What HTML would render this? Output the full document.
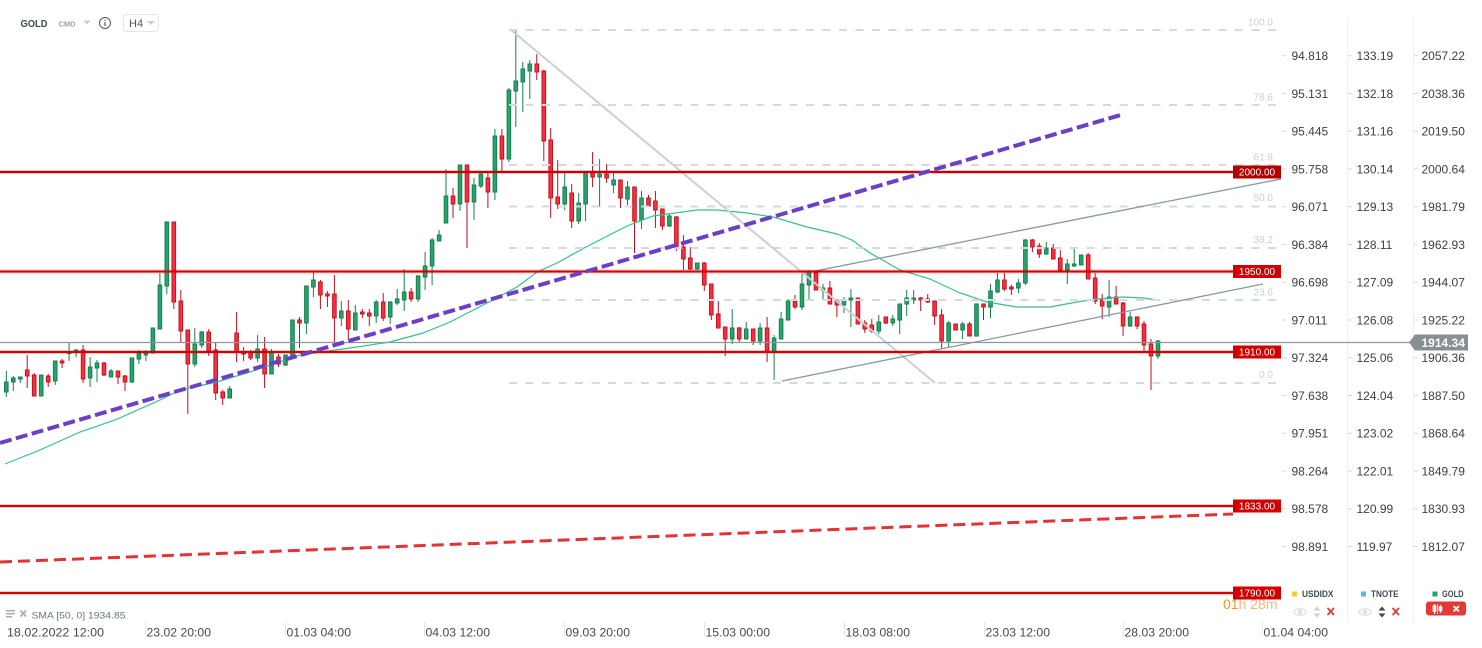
<!DOCTYPE html>
<html><head><meta charset="utf-8"><style>
html,body{margin:0;padding:0;background:#fff;}
svg{display:block;font-family:"Liberation Sans",Arial,sans-serif;}
.g path{stroke:#1a7d4f;stroke-width:1}
.g rect{fill:#25a56c;stroke:#1a7d4f;stroke-width:1}
.r path{stroke:#b5121f;stroke-width:1}
.r rect{fill:#fb2d40;stroke:#c0141f;stroke-width:1}
rect.b{x:-1.8px;width:3.6px}
.ax{font-size:12px;fill:#3c4043}
.fl{font-size:10px;fill:#c8d0d5;text-anchor:end}
.xl{font-size:12px;fill:#454a4e}
</style></head><body>
<svg width="1482" height="648" viewBox="0 0 1482 648" xmlns="http://www.w3.org/2000/svg">
<rect width="1482" height="648" fill="#fff"/>

<!-- header -->
<text x="20.5" y="27" font-size="10.5" font-weight="bold" fill="#3d4a54" textLength="27" lengthAdjust="spacingAndGlyphs">GOLD</text>
<text x="58.5" y="26.5" font-size="7.5" font-weight="bold" fill="#93a4b0" textLength="17" lengthAdjust="spacingAndGlyphs">CMD</text>
<polygon points="83,20.5 91,20.5 87,24.5" fill="#c9ced2"/>
<circle cx="105" cy="23" r="5.5" fill="none" stroke="#555" stroke-width="1"/>
<rect x="104.4" y="22" width="1.2" height="4" fill="#555"/><rect x="104.4" y="19.6" width="1.2" height="1.2" fill="#555"/>
<rect x="123.5" y="14.5" width="35" height="17" rx="3" fill="#fff" stroke="#e3e6e8"/>
<text x="129" y="27" font-size="11" fill="#555">H4</text>
<polygon points="147,21 155,21 151,25" fill="#c9ced2"/>

<!-- axis separators -->
<line x1="1347.5" y1="18" x2="1347.5" y2="623" stroke="#eef0f2"/>
<line x1="1413.5" y1="18" x2="1413.5" y2="623" stroke="#eef0f2"/>

<!-- candles -->
<g>
<g class="g" transform="translate(6.3)"><path d="M0 371V397"/><rect class="b" y="382" height="10"/></g>
<g class="g" transform="translate(13.3)"><path d="M0 376V391"/><rect class="b" y="378" height="4"/></g>
<g class="g" transform="translate(20.3)"><path d="M0 377V383"/><rect class="b" y="377" height="2"/></g>
<g class="r" transform="translate(27.2)"><path d="M0 355V388"/><rect class="b" y="370" height="6"/></g>
<g class="r" transform="translate(34.2)"><path d="M0 373V396"/><rect class="b" y="375" height="21"/></g>
<g class="g" transform="translate(41.2)"><path d="M0 375V396"/><rect class="b" y="375" height="21"/></g>
<g class="r" transform="translate(48.2)"><path d="M0 374V387"/><rect class="b" y="376" height="6"/></g>
<g class="g" transform="translate(55.2)"><path d="M0 361V385"/><rect class="b" y="361" height="20"/></g>
<g class="r" transform="translate(62.1)"><path d="M0 359V368"/><rect class="b" y="361" height="2"/></g>
<g class="g" transform="translate(69.1)"><path d="M0 343V361"/><rect class="b" y="352" height="1.5"/></g>
<g class="g" transform="translate(76.1)"><path d="M0 349V357"/><rect class="b" y="350" height="2"/></g>
<g class="r" transform="translate(83.1)"><path d="M0 345V383"/><rect class="b" y="350" height="29"/></g>
<g class="g" transform="translate(90.1)"><path d="M0 357V387"/><rect class="b" y="367" height="11"/></g>
<g class="g" transform="translate(97)"><path d="M0 360V382"/><rect class="b" y="363" height="5"/></g>
<g class="r" transform="translate(104)"><path d="M0 362V376"/><rect class="b" y="363" height="12"/></g>
<g class="g" transform="translate(111)"><path d="M0 369V377"/><rect class="b" y="371" height="6"/></g>
<g class="r" transform="translate(118)"><path d="M0 371V384"/><rect class="b" y="371" height="6"/></g>
<g class="r" transform="translate(125)"><path d="M0 375V391"/><rect class="b" y="376" height="6"/></g>
<g class="g" transform="translate(131.9)"><path d="M0 358V383"/><rect class="b" y="358" height="24"/></g>
<g class="g" transform="translate(138.9)"><path d="M0 350V364"/><rect class="b" y="353" height="6"/></g>
<g class="g" transform="translate(145.9)"><path d="M0 350V361"/><rect class="b" y="353" height="2"/></g>
<g class="g" transform="translate(152.9)"><path d="M0 328V353"/><rect class="b" y="328" height="25"/></g>
<g class="g" transform="translate(159.9)"><path d="M0 273V329"/><rect class="b" y="285" height="44"/></g>
<g class="g" transform="translate(166.8)"><path d="M0 222V294"/><rect class="b" y="222" height="64"/></g>
<g class="r" transform="translate(173.8)"><path d="M0 222V309"/><rect class="b" y="222" height="80"/></g>
<g class="r" transform="translate(180.8)"><path d="M0 290V343"/><rect class="b" y="301" height="30"/></g>
<g class="r" transform="translate(187.8)"><path d="M0 330V414"/><rect class="b" y="330" height="34"/></g>
<g class="g" transform="translate(194.8)"><path d="M0 328V367"/><rect class="b" y="344" height="20"/></g>
<g class="g" transform="translate(201.7)"><path d="M0 331V348"/><rect class="b" y="332" height="13"/></g>
<g class="r" transform="translate(208.7)"><path d="M0 329V356"/><rect class="b" y="332" height="19"/></g>
<g class="r" transform="translate(215.7)"><path d="M0 343V400"/><rect class="b" y="350" height="43"/></g>
<g class="r" transform="translate(222.7)"><path d="M0 390V405"/><rect class="b" y="392" height="6"/></g>
<g class="g" transform="translate(229.7)"><path d="M0 386V398"/><rect class="b" y="389" height="9"/></g>
<g class="r" transform="translate(236.6)"><path d="M0 312V362"/><rect class="b" y="333" height="19"/></g>
<g class="r" transform="translate(243.6)"><path d="M0 347V361"/><rect class="b" y="352" height="2"/></g>
<g class="r" transform="translate(250.6)"><path d="M0 350V360"/><rect class="b" y="352" height="6"/></g>
<g class="g" transform="translate(257.6)"><path d="M0 335V362"/><rect class="b" y="349" height="9"/></g>
<g class="r" transform="translate(264.6)"><path d="M0 337V388"/><rect class="b" y="349" height="25"/></g>
<g class="g" transform="translate(271.5)"><path d="M0 349V374"/><rect class="b" y="353" height="21"/></g>
<g class="r" transform="translate(278.5)"><path d="M0 354V367"/><rect class="b" y="357" height="7"/></g>
<g class="g" transform="translate(285.5)"><path d="M0 355V366"/><rect class="b" y="355" height="10"/></g>
<g class="g" transform="translate(292.5)"><path d="M0 320V356"/><rect class="b" y="320" height="36"/></g>
<g class="r" transform="translate(299.5)"><path d="M0 317V348"/><rect class="b" y="320" height="3"/></g>
<g class="g" transform="translate(306.4)"><path d="M0 286V334"/><rect class="b" y="286" height="37"/></g>
<g class="g" transform="translate(313.4)"><path d="M0 272V297"/><rect class="b" y="280" height="7"/></g>
<g class="r" transform="translate(320.4)"><path d="M0 280V309"/><rect class="b" y="282" height="13"/></g>
<g class="r" transform="translate(327.4)"><path d="M0 291V307"/><rect class="b" y="294" height="2"/></g>
<g class="r" transform="translate(334.4)"><path d="M0 275V343"/><rect class="b" y="294" height="24"/></g>
<g class="g" transform="translate(341.3)"><path d="M0 301V326"/><rect class="b" y="311" height="7"/></g>
<g class="r" transform="translate(348.3)"><path d="M0 300V340"/><rect class="b" y="311" height="18"/></g>
<g class="g" transform="translate(355.3)"><path d="M0 305V330"/><rect class="b" y="313" height="17"/></g>
<g class="r" transform="translate(362.3)"><path d="M0 309V318"/><rect class="b" y="312" height="2"/></g>
<g class="r" transform="translate(369.3)"><path d="M0 309V326"/><rect class="b" y="313" height="3"/></g>
<g class="g" transform="translate(376.2)"><path d="M0 300V323"/><rect class="b" y="302" height="14"/></g>
<g class="r" transform="translate(383.2)"><path d="M0 293V321"/><rect class="b" y="302" height="16"/></g>
<g class="g" transform="translate(390.2)"><path d="M0 301V324"/><rect class="b" y="302" height="15"/></g>
<g class="g" transform="translate(397.2)"><path d="M0 289V305"/><rect class="b" y="299" height="4"/></g>
<g class="g" transform="translate(404.2)"><path d="M0 269V311"/><rect class="b" y="292" height="8"/></g>
<g class="r" transform="translate(411.1)"><path d="M0 288V302"/><rect class="b" y="292" height="7"/></g>
<g class="g" transform="translate(418.1)"><path d="M0 275V302"/><rect class="b" y="276" height="23"/></g>
<g class="g" transform="translate(425.1)"><path d="M0 252V290"/><rect class="b" y="266" height="11"/></g>
<g class="g" transform="translate(432.1)"><path d="M0 238V285"/><rect class="b" y="240" height="26"/></g>
<g class="g" transform="translate(439.1)"><path d="M0 230V241"/><rect class="b" y="235" height="6"/></g>
<g class="g" transform="translate(446)"><path d="M0 169V223"/><rect class="b" y="196" height="27"/></g>
<g class="r" transform="translate(453)"><path d="M0 188V218"/><rect class="b" y="196" height="8"/></g>
<g class="g" transform="translate(460)"><path d="M0 165V211"/><rect class="b" y="165" height="39"/></g>
<g class="r" transform="translate(467)"><path d="M0 165V248"/><rect class="b" y="165" height="37"/></g>
<g class="g" transform="translate(474)"><path d="M0 178V220"/><rect class="b" y="185" height="17"/></g>
<g class="g" transform="translate(480.9)"><path d="M0 173V188"/><rect class="b" y="174" height="12"/></g>
<g class="r" transform="translate(487.9)"><path d="M0 172V208"/><rect class="b" y="178" height="14"/></g>
<g class="g" transform="translate(494.9)"><path d="M0 129V200"/><rect class="b" y="136" height="56"/></g>
<g class="r" transform="translate(501.9)"><path d="M0 129V171"/><rect class="b" y="136" height="23"/></g>
<g class="g" transform="translate(508.9)"><path d="M0 88V162"/><rect class="b" y="90" height="69"/></g>
<g class="g" transform="translate(515.8)"><path d="M0 31V127"/><rect class="b" y="81" height="10"/></g>
<g class="g" transform="translate(522.8)"><path d="M0 62V112"/><rect class="b" y="69" height="13"/></g>
<g class="g" transform="translate(529.8)"><path d="M0 60V99"/><rect class="b" y="64" height="7"/></g>
<g class="r" transform="translate(536.8)"><path d="M0 54V80"/><rect class="b" y="64" height="8"/></g>
<g class="r" transform="translate(543.8)"><path d="M0 70V161"/><rect class="b" y="71" height="70"/></g>
<g class="r" transform="translate(550.7)"><path d="M0 128V218"/><rect class="b" y="140" height="58"/></g>
<g class="r" transform="translate(557.7)"><path d="M0 160V209"/><rect class="b" y="197" height="7"/></g>
<g class="g" transform="translate(564.7)"><path d="M0 173V210"/><rect class="b" y="187" height="17"/></g>
<g class="r" transform="translate(571.7)"><path d="M0 184V228"/><rect class="b" y="193" height="28"/></g>
<g class="g" transform="translate(578.7)"><path d="M0 193V224"/><rect class="b" y="203" height="18"/></g>
<g class="g" transform="translate(585.6)"><path d="M0 172V221"/><rect class="b" y="172" height="32"/></g>
<g class="r" transform="translate(592.6)"><path d="M0 152V187"/><rect class="b" y="172" height="5"/></g>
<g class="g" transform="translate(599.6)"><path d="M0 159V207"/><rect class="b" y="174" height="3"/></g>
<g class="r" transform="translate(606.6)"><path d="M0 164V183"/><rect class="b" y="174" height="4"/></g>
<g class="g" transform="translate(613.6)"><path d="M0 173V193"/><rect class="b" y="180" height="5"/></g>
<g class="r" transform="translate(620.5)"><path d="M0 180V208"/><rect class="b" y="180" height="18"/></g>
<g class="g" transform="translate(627.5)"><path d="M0 181V205"/><rect class="b" y="187" height="12"/></g>
<g class="r" transform="translate(634.5)"><path d="M0 187V253"/><rect class="b" y="187" height="34"/></g>
<g class="g" transform="translate(641.5)"><path d="M0 191V229"/><rect class="b" y="198" height="22"/></g>
<g class="r" transform="translate(648.5)"><path d="M0 195V206"/><rect class="b" y="198" height="8"/></g>
<g class="r" transform="translate(655.4)"><path d="M0 191V228"/><rect class="b" y="201" height="9"/></g>
<g class="r" transform="translate(662.4)"><path d="M0 209V230"/><rect class="b" y="209" height="17"/></g>
<g class="g" transform="translate(669.4)"><path d="M0 214V227"/><rect class="b" y="216" height="10"/></g>
<g class="r" transform="translate(676.4)"><path d="M0 216V251"/><rect class="b" y="217" height="30"/></g>
<g class="r" transform="translate(683.4)"><path d="M0 235V270"/><rect class="b" y="247" height="12"/></g>
<g class="r" transform="translate(690.3)"><path d="M0 247V270"/><rect class="b" y="258" height="11"/></g>
<g class="g" transform="translate(697.3)"><path d="M0 263V270"/><rect class="b" y="263" height="6"/></g>
<g class="r" transform="translate(704.3)"><path d="M0 262V291"/><rect class="b" y="263" height="22"/></g>
<g class="r" transform="translate(711.3)"><path d="M0 284V320"/><rect class="b" y="284" height="31"/></g>
<g class="r" transform="translate(718.3)"><path d="M0 301V328"/><rect class="b" y="314" height="14"/></g>
<g class="r" transform="translate(725.2)"><path d="M0 327V356"/><rect class="b" y="327" height="12"/></g>
<g class="g" transform="translate(732.2)"><path d="M0 309V344"/><rect class="b" y="328" height="11"/></g>
<g class="r" transform="translate(739.2)"><path d="M0 327V343"/><rect class="b" y="328" height="11"/></g>
<g class="g" transform="translate(746.2)"><path d="M0 322V339"/><rect class="b" y="329" height="10"/></g>
<g class="r" transform="translate(753.2)"><path d="M0 329V345"/><rect class="b" y="329" height="12"/></g>
<g class="g" transform="translate(760.1)"><path d="M0 323V345"/><rect class="b" y="328" height="13"/></g>
<g class="r" transform="translate(767.1)"><path d="M0 317V362"/><rect class="b" y="328" height="23"/></g>
<g class="g" transform="translate(774.1)"><path d="M0 335V380"/><rect class="b" y="338" height="13"/></g>
<g class="g" transform="translate(781.1)"><path d="M0 312V339"/><rect class="b" y="319" height="20"/></g>
<g class="g" transform="translate(788.1)"><path d="M0 299V320"/><rect class="b" y="301" height="19"/></g>
<g class="r" transform="translate(795)"><path d="M0 295V309"/><rect class="b" y="301" height="6"/></g>
<g class="g" transform="translate(802)"><path d="M0 274V310"/><rect class="b" y="284" height="23"/></g>
<g class="g" transform="translate(809)"><path d="M0 270V299"/><rect class="b" y="273" height="12"/></g>
<g class="r" transform="translate(816)"><path d="M0 272V290"/><rect class="b" y="273" height="17"/></g>
<g class="g" transform="translate(823)"><path d="M0 284V299"/><rect class="b" y="288" height="2"/></g>
<g class="r" transform="translate(829.9)"><path d="M0 281V304"/><rect class="b" y="288" height="16"/></g>
<g class="r" transform="translate(836.9)"><path d="M0 299V317"/><rect class="b" y="301" height="4"/></g>
<g class="g" transform="translate(843.9)"><path d="M0 297V313"/><rect class="b" y="300" height="5"/></g>
<g class="g" transform="translate(850.9)"><path d="M0 289V327"/><rect class="b" y="298" height="2"/></g>
<g class="r" transform="translate(857.9)"><path d="M0 298V324"/><rect class="b" y="298" height="26"/></g>
<g class="r" transform="translate(864.8)"><path d="M0 320V333"/><rect class="b" y="323" height="6"/></g>
<g class="r" transform="translate(871.8)"><path d="M0 319V333"/><rect class="b" y="325" height="6"/></g>
<g class="g" transform="translate(878.8)"><path d="M0 315V334"/><rect class="b" y="322" height="9"/></g>
<g class="r" transform="translate(885.8)"><path d="M0 317V324"/><rect class="b" y="317" height="6"/></g>
<g class="g" transform="translate(892.8)"><path d="M0 315V326"/><rect class="b" y="319" height="4"/></g>
<g class="g" transform="translate(899.7)"><path d="M0 304V334"/><rect class="b" y="304" height="16"/></g>
<g class="g" transform="translate(906.7)"><path d="M0 290V316"/><rect class="b" y="298" height="6"/></g>
<g class="g" transform="translate(913.7)"><path d="M0 290V304"/><rect class="b" y="298" height="2"/></g>
<g class="r" transform="translate(920.7)"><path d="M0 297V311"/><rect class="b" y="298" height="2"/></g>
<g class="r" transform="translate(927.7)"><path d="M0 294V303"/><rect class="b" y="299" height="3"/></g>
<g class="r" transform="translate(934.6)"><path d="M0 301V325"/><rect class="b" y="301" height="15"/></g>
<g class="r" transform="translate(941.6)"><path d="M0 309V348"/><rect class="b" y="315" height="26"/></g>
<g class="g" transform="translate(948.6)"><path d="M0 321V348"/><rect class="b" y="323" height="18"/></g>
<g class="r" transform="translate(955.6)"><path d="M0 324V330"/><rect class="b" y="324" height="6"/></g>
<g class="g" transform="translate(962.6)"><path d="M0 322V339"/><rect class="b" y="324" height="6"/></g>
<g class="r" transform="translate(969.5)"><path d="M0 322V336"/><rect class="b" y="324" height="12"/></g>
<g class="g" transform="translate(976.5)"><path d="M0 304V336"/><rect class="b" y="304" height="32"/></g>
<g class="r" transform="translate(983.5)"><path d="M0 304V320"/><rect class="b" y="304" height="3"/></g>
<g class="g" transform="translate(990.5)"><path d="M0 284V318"/><rect class="b" y="291" height="16"/></g>
<g class="g" transform="translate(997.5)"><path d="M0 273V293"/><rect class="b" y="280" height="12"/></g>
<g class="r" transform="translate(1004.4)"><path d="M0 273V291"/><rect class="b" y="280" height="9"/></g>
<g class="r" transform="translate(1011.4)"><path d="M0 285V295"/><rect class="b" y="287" height="2"/></g>
<g class="g" transform="translate(1018.4)"><path d="M0 279V293"/><rect class="b" y="283" height="5"/></g>
<g class="g" transform="translate(1025.4)"><path d="M0 239V285"/><rect class="b" y="240" height="43"/></g>
<g class="r" transform="translate(1032.4)"><path d="M0 239V252"/><rect class="b" y="240" height="7"/></g>
<g class="r" transform="translate(1039.3)"><path d="M0 243V258"/><rect class="b" y="246" height="8"/></g>
<g class="g" transform="translate(1046.3)"><path d="M0 242V255"/><rect class="b" y="248" height="6"/></g>
<g class="r" transform="translate(1053.3)"><path d="M0 244V259"/><rect class="b" y="248" height="11"/></g>
<g class="r" transform="translate(1060.3)"><path d="M0 250V270"/><rect class="b" y="258" height="12"/></g>
<g class="g" transform="translate(1067.3)"><path d="M0 259V284"/><rect class="b" y="264" height="6"/></g>
<g class="g" transform="translate(1074.2)"><path d="M0 247V267"/><rect class="b" y="264" height="2"/></g>
<g class="g" transform="translate(1081.2)"><path d="M0 255V265"/><rect class="b" y="255" height="10"/></g>
<g class="r" transform="translate(1088.2)"><path d="M0 253V279"/><rect class="b" y="255" height="24"/></g>
<g class="r" transform="translate(1095.2)"><path d="M0 273V304"/><rect class="b" y="278" height="23"/></g>
<g class="r" transform="translate(1102.2)"><path d="M0 294V319"/><rect class="b" y="300" height="6"/></g>
<g class="g" transform="translate(1109.1)"><path d="M0 280V317"/><rect class="b" y="297" height="10"/></g>
<g class="r" transform="translate(1116.1)"><path d="M0 286V304"/><rect class="b" y="297" height="7"/></g>
<g class="r" transform="translate(1123.1)"><path d="M0 302V336"/><rect class="b" y="303" height="23"/></g>
<g class="g" transform="translate(1130.1)"><path d="M0 312V327"/><rect class="b" y="317" height="9"/></g>
<g class="r" transform="translate(1137.1)"><path d="M0 317V329"/><rect class="b" y="317" height="9"/></g>
<g class="r" transform="translate(1144)"><path d="M0 321V351"/><rect class="b" y="324" height="21"/></g>
<g class="r" transform="translate(1151)"><path d="M0 339V390"/><rect class="b" y="344" height="12"/></g>
<g class="g" transform="translate(1158)"><path d="M0 340V359"/><rect class="b" y="341" height="15"/></g>
</g>

<!-- SMA -->
<polyline fill="none" stroke="#36c08f" stroke-width="1.2" points="5,464 40,450 80,432 115,420 160,400 180,390 217,382 250,372 300,355 350,348 390,342 423,333 450,322 487,303 517,287 537,272 557,263 586,247 627,226 653,216 697,210 717,210 747,213 773,217 807,227 837,234 852,240 870,253 900,270 930,279 960,293 987,302 1017,307 1050,307 1077,302 1097,299 1123,297 1143,298 1157,300"/>

<!-- fib dashed levels -->
<g stroke="#d3dbe0" stroke-width="2" stroke-dasharray="8 8.5">
<line x1="509" y1="30" x2="1281" y2="30"/>
<line x1="509" y1="105" x2="1281" y2="105"/>
<line x1="509" y1="165" x2="1281" y2="165"/>
<line x1="509" y1="206.5" x2="1281" y2="206.5"/>
<line x1="509" y1="248" x2="1281" y2="248"/>
<line x1="509" y1="300" x2="1281" y2="300"/>
<line x1="509" y1="383" x2="1281" y2="383"/>
</g>
<g class="fl">
<text x="1273" y="25.3">100.0</text>
<text x="1273" y="100.3">78.6</text>
<text x="1273" y="160.3">61.8</text>
<text x="1273" y="201">50.0</text>
<text x="1273" y="243">38.2</text>
<text x="1273" y="295.3">23.6</text>
<text x="1273" y="378">0.0</text>
</g>
<!-- fib diagonal -->
<line x1="511" y1="30" x2="935" y2="383" stroke="#c9d1d6" stroke-width="2"/>

<!-- channel lines -->
<line x1="805" y1="273" x2="1281" y2="179" stroke="#8899a6" stroke-width="1.3"/>
<line x1="782" y1="381" x2="1263" y2="284" stroke="#8899a6" stroke-width="1.3"/>

<!-- current price line -->
<line x1="0" y1="342.5" x2="1410" y2="342.5" stroke="#8d979c" stroke-width="1.2"/>

<!-- horizontal red levels -->
<g>
<rect x="0" y="170" width="1233" height="4" fill="rgba(220,0,0,0.22)"/><rect x="0" y="171" width="1233" height="2" fill="#c80000"/>
<rect x="0" y="269.5" width="1233" height="4" fill="rgba(220,0,0,0.22)"/><rect x="0" y="270.5" width="1233" height="2" fill="#d20000"/>
<rect x="0" y="350" width="1233" height="4" fill="rgba(220,0,0,0.22)"/><rect x="0" y="351" width="1233" height="2" fill="#d20000"/>
<rect x="0" y="504" width="1233" height="4" fill="rgba(220,0,0,0.22)"/><rect x="0" y="505" width="1233" height="2" fill="#d20000"/>
<rect x="0" y="591" width="1233" height="4" fill="rgba(220,0,0,0.22)"/><rect x="0" y="592" width="1233" height="2" fill="#d20000"/>
</g>

<!-- purple dashed trend -->
<line x1="0" y1="443" x2="1124" y2="114" stroke="#6c3fc6" stroke-width="4" stroke-dasharray="12 4.5"/>
<!-- red dashed trend -->
<line x1="0" y1="562" x2="1233" y2="514" stroke="#e23434" stroke-width="3" stroke-dasharray="12 6"/>

<!-- 01h 28m -->
<text x="1223" y="609" font-size="14" fill="#f59a22">01<tspan fill="#f3b877">h 28m</tspan></text>

<!-- red labels -->
<g font-size="10" fill="#fff" text-anchor="middle">
<rect x="1233" y="165.5" width="48" height="13" fill="#b30000"/><text x="1257" y="175.7">2000.00</text>
<rect x="1233" y="265" width="48" height="13" fill="#d00000"/><text x="1257" y="275.2">1950.00</text>
<rect x="1233" y="345.5" width="48" height="13" fill="#d00000"/><text x="1257" y="355.7">1910.00</text>
<rect x="1233" y="499.5" width="48" height="13" fill="#d00000"/><text x="1257" y="509.7">1833.00</text>
<rect x="1233" y="586.5" width="48" height="13" fill="#d00000"/><text x="1257" y="596.7">1790.00</text>
</g>

<!-- price axis ticks -->
<g stroke="#d6dadd" stroke-width="1">
<path d="M1282 55.7h5M1282 93.5h5M1282 131.2h5M1282 169h5M1282 206.7h5M1282 244.5h5M1282 282.2h5M1282 320h5M1282 357.7h5M1282 395.5h5M1282 433.2h5M1282 471h5M1282 508.7h5M1282 546.5h5"/>
<path d="M1348 55.7h4M1348 93.5h4M1348 131.2h4M1348 169h4M1348 206.7h4M1348 244.5h4M1348 282.2h4M1348 320h4M1348 357.7h4M1348 395.5h4M1348 433.2h4M1348 471h4M1348 508.7h4M1348 546.5h4"/>
<path d="M1414 55.7h4M1414 93.5h4M1414 131.2h4M1414 169h4M1414 206.7h4M1414 244.5h4M1414 282.2h4M1414 320h4M1414 357.7h4M1414 395.5h4M1414 433.2h4M1414 471h4M1414 508.7h4M1414 546.5h4"/>
</g>
<g class="ax">
<text x="1291.5" y="60">94.818</text><text x="1291.5" y="97.8">95.131</text><text x="1291.5" y="135.5">95.445</text><text x="1291.5" y="173.3">95.758</text><text x="1291.5" y="211">96.071</text><text x="1291.5" y="248.8">96.384</text><text x="1291.5" y="286.5">96.698</text><text x="1291.5" y="324.3">97.011</text><text x="1291.5" y="362">97.324</text><text x="1291.5" y="399.8">97.638</text><text x="1291.5" y="437.5">97.951</text><text x="1291.5" y="475.3">98.264</text><text x="1291.5" y="513">98.578</text><text x="1291.5" y="550.8">98.891</text>
<text x="1356.5" y="60">133.19</text><text x="1356.5" y="97.8">132.18</text><text x="1356.5" y="135.5">131.16</text><text x="1356.5" y="173.3">130.14</text><text x="1356.5" y="211">129.13</text><text x="1356.5" y="248.8">128.11</text><text x="1356.5" y="286.5">127.09</text><text x="1356.5" y="324.3">126.08</text><text x="1356.5" y="362">125.06</text><text x="1356.5" y="399.8">124.04</text><text x="1356.5" y="437.5">123.02</text><text x="1356.5" y="475.3">122.01</text><text x="1356.5" y="513">120.99</text><text x="1356.5" y="550.8">119.97</text>
<text x="1421.5" y="60">2057.22</text><text x="1421.5" y="97.8">2038.36</text><text x="1421.5" y="135.5">2019.50</text><text x="1421.5" y="173.3">2000.64</text><text x="1421.5" y="211">1981.79</text><text x="1421.5" y="248.8">1962.93</text><text x="1421.5" y="286.5">1944.07</text><text x="1421.5" y="324.3">1925.22</text><text x="1421.5" y="362">1906.36</text><text x="1421.5" y="399.8">1887.50</text><text x="1421.5" y="437.5">1868.64</text><text x="1421.5" y="475.3">1849.79</text><text x="1421.5" y="513">1830.93</text><text x="1421.5" y="550.8">1812.07</text>
</g>

<!-- current price box -->
<polygon points="1409,342.5 1415,334.5 1468,334.5 1468,350.5 1415,350.5" fill="#858f94"/>
<text x="1421.5" y="346.8" font-size="12" font-weight="bold" fill="#fff">1914.34</text>

<!-- legend bottom right -->
<rect x="1292" y="591.5" width="5" height="5" fill="#f7cf2d"/>
<text x="1302" y="597" font-size="9.5" font-weight="bold" fill="#3d4a54" textLength="31.5" lengthAdjust="spacingAndGlyphs">USDIDX</text>
<rect x="1361" y="591.5" width="5" height="5" fill="#4fb9f0"/>
<text x="1371" y="597" font-size="9.5" font-weight="bold" fill="#3d4a54" textLength="27.5" lengthAdjust="spacingAndGlyphs">TNOTE</text>
<rect x="1432.5" y="591.5" width="5" height="5" fill="#21a46a"/>
<text x="1442" y="597" font-size="9.5" font-weight="bold" fill="#3d4a54" textLength="21.5" lengthAdjust="spacingAndGlyphs">GOLD</text>
<!-- eye icons -->
<g fill="none" stroke="#dfe3e6" stroke-width="1.3">
<path d="M1293.5 612c3-4.5 10-4.5 13 0c-3 4.5-10 4.5-13 0z"/><circle cx="1300" cy="612" r="1.8" fill="#dfe3e6"/>
<path d="M1358.5 612c3-4.5 10-4.5 13 0c-3 4.5-10 4.5-13 0z"/><circle cx="1365" cy="612" r="1.8" fill="#dfe3e6"/>
</g>
<polygon points="1317,606.5 1320.5,610.5 1313.5,610.5" fill="#ccd2d6"/><polygon points="1317,617.5 1320.5,613.5 1313.5,613.5" fill="#ccd2d6"/>
<polygon points="1382,606.5 1385.5,610.5 1378.5,610.5" fill="#3c4650"/><polygon points="1382,617.5 1385.5,613.5 1378.5,613.5" fill="#3c4650"/>
<g stroke="#e53935" stroke-width="1.8" stroke-linecap="round">
<path d="M1328 608.5l5.5 6M1333.5 608.5l-5.5 6"/>
<path d="M1393 608.5l5.5 6M1398.5 608.5l-5.5 6"/>
</g>
<rect x="1426" y="601.5" width="40" height="14" rx="3" fill="#e53935"/>
<g stroke="#fff" stroke-width="1.2" fill="none">
<path d="M1434.5 604v10M1440.5 605v8"/>
<rect x="1433.3" y="606" width="2.4" height="5"/><rect x="1439.3" y="607" width="2.4" height="3.5"/>
<path d="M1437.5 604v10" stroke-width="0.8"/>
<path d="M1453.5 606l5.5 5.5M1459 606l-5.5 5.5" stroke-width="1.8"/>
</g>

<!-- SMA legend -->
<g fill="#a7afb4">
<rect x="6" y="610" width="9" height="1.5"/><rect x="6" y="613" width="9" height="1.5"/><rect x="6" y="616" width="6" height="1.5"/>
</g>
<path d="M20.5 610.5l5.5 6M26 610.5l-5.5 6" stroke="#a7afb4" stroke-width="1.8"/>
<text x="31.5" y="618.5" font-size="9.5" fill="#6c757d" textLength="94" lengthAdjust="spacingAndGlyphs">SMA [50, 0] 1934.85</text>

<!-- x axis -->
<g stroke="#e3e6e8" stroke-width="1">
<path d="M145.5 622v14M285.5 622v14M424.5 622v14M564.5 622v14M704.5 622v14M844.5 622v14M984.5 622v14M1123.5 622v14M1262.5 622v14"/>
</g>
<g class="xl">
<text x="7" y="636.3" textLength="97" lengthAdjust="spacingAndGlyphs">18.02.2022  12:00</text>
<text x="146.5" y="636.3" textLength="64.5" lengthAdjust="spacingAndGlyphs">23.02  20:00</text>
<text x="286.5" y="636.3" textLength="64.5" lengthAdjust="spacingAndGlyphs">01.03  04:00</text>
<text x="425.5" y="636.3" textLength="64.5" lengthAdjust="spacingAndGlyphs">04.03  12:00</text>
<text x="565.5" y="636.3" textLength="64.5" lengthAdjust="spacingAndGlyphs">09.03  20:00</text>
<text x="705.5" y="636.3" textLength="64.5" lengthAdjust="spacingAndGlyphs">15.03  00:00</text>
<text x="845.5" y="636.3" textLength="64.5" lengthAdjust="spacingAndGlyphs">18.03  08:00</text>
<text x="985.5" y="636.3" textLength="64.5" lengthAdjust="spacingAndGlyphs">23.03  12:00</text>
<text x="1124.5" y="636.3" textLength="64.5" lengthAdjust="spacingAndGlyphs">28.03  20:00</text>
<text x="1263.5" y="636.3" textLength="64.5" lengthAdjust="spacingAndGlyphs">01.04  04:00</text>
</g>
</svg>
</body></html>
